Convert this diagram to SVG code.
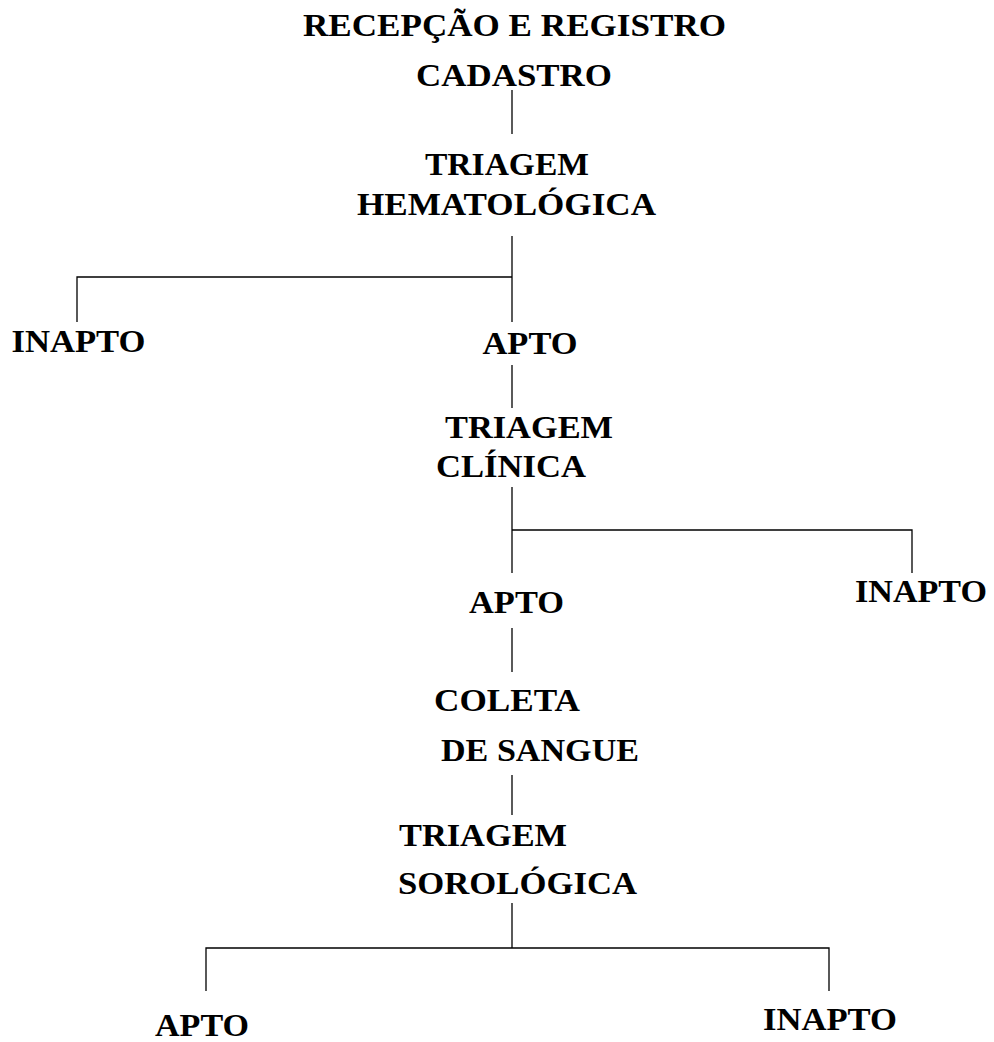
<svg xmlns="http://www.w3.org/2000/svg" width="994" height="1042" viewBox="0 0 994 1042">
<style>
text{font-family:"Liberation Serif","Times New Roman",serif;font-weight:bold;font-size:32.5px;fill:#000}
.c line,.c polyline{stroke:#000;stroke-width:1.3;fill:none}
</style>
<rect width="994" height="1042" fill="#fff"/>
<g class="c" id="connectors">
<line x1="512" y1="90" x2="512" y2="134"/>
<line x1="512" y1="236" x2="512" y2="322"/>
<polyline points="77,322 77,277 512,277"/>
<line x1="512" y1="365" x2="512" y2="408"/>
<line x1="512" y1="487" x2="512" y2="573"/>
<polyline points="512,530 912,530 912,573"/>
<line x1="512" y1="628" x2="512" y2="672"/>
<line x1="512" y1="775" x2="512" y2="815"/>
<line x1="512" y1="903" x2="512" y2="948"/>
<polyline points="206,991 206,948 829,948 829,991"/>
</g>
<g id="recepcao"><text x="303" y="36" textLength="423" lengthAdjust="spacingAndGlyphs">RECEPÇÃO E REGISTRO</text></g>
<g id="cadastro"><text x="416" y="86" textLength="196" lengthAdjust="spacingAndGlyphs">CADASTRO</text></g>
<g id="triagem-hematologica">
<text x="425" y="175" textLength="164" lengthAdjust="spacingAndGlyphs">TRIAGEM</text>
<text x="357" y="215" textLength="299" lengthAdjust="spacingAndGlyphs">HEMATOLÓGICA</text>
</g>
<g id="inapto-1"><text x="11.5" y="352" textLength="134" lengthAdjust="spacingAndGlyphs">INAPTO</text></g>
<g id="apto-1"><text x="482.5" y="354" textLength="95" lengthAdjust="spacingAndGlyphs">APTO</text></g>
<g id="triagem-clinica">
<text x="445" y="438" textLength="168" lengthAdjust="spacingAndGlyphs">TRIAGEM</text>
<text x="436" y="477" textLength="150" lengthAdjust="spacingAndGlyphs">CLÍNICA</text>
</g>
<g id="apto-2"><text x="469" y="613" textLength="95" lengthAdjust="spacingAndGlyphs">APTO</text></g>
<g id="inapto-2"><text x="855" y="602" textLength="132" lengthAdjust="spacingAndGlyphs">INAPTO</text></g>
<g id="coleta">
<text x="434" y="711" textLength="146" lengthAdjust="spacingAndGlyphs">COLETA</text>
<text x="441" y="761" textLength="198" lengthAdjust="spacingAndGlyphs">DE SANGUE</text>
</g>
<g id="triagem-sorologica">
<text x="399" y="846" textLength="168" lengthAdjust="spacingAndGlyphs">TRIAGEM</text>
<text x="398" y="894" textLength="239" lengthAdjust="spacingAndGlyphs">SOROLÓGICA</text>
</g>
<g id="apto-3"><text x="155" y="1036" textLength="94" lengthAdjust="spacingAndGlyphs">APTO</text></g>
<g id="inapto-3"><text x="763" y="1030" textLength="134" lengthAdjust="spacingAndGlyphs">INAPTO</text></g>
</svg>
